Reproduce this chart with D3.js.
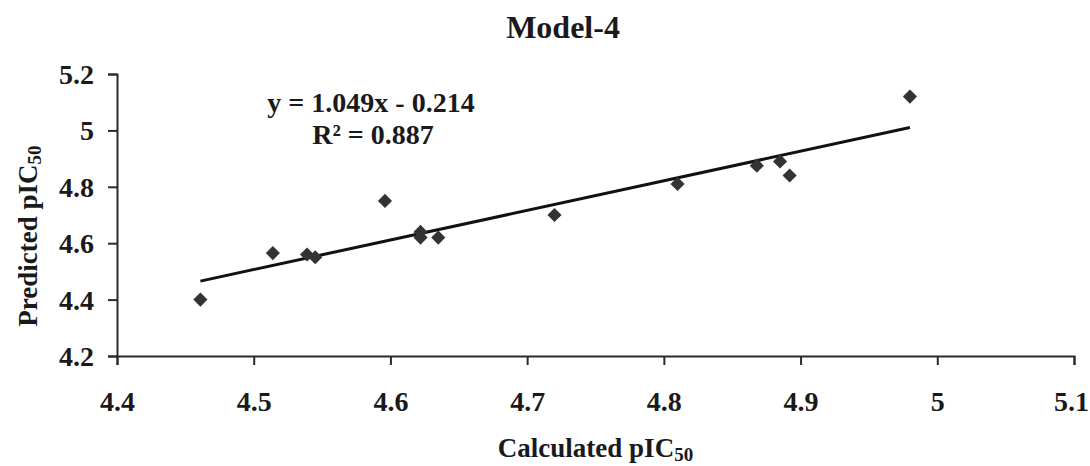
<!DOCTYPE html>
<html>
<head>
<meta charset="utf-8">
<script src="https://cdn.jsdelivr.net/npm/d3@7"></script>
<style>
  body { margin: 0; background: #fff; }
  svg text { font-family: "Liberation Serif", "Times New Roman", serif !important; font-weight: bold; fill: #1a1a1a; }
</style>
</head>
<body>
<div id="wrapper"></div>
<script>
const calculated = [4.461, 4.514, 4.539, 4.545, 4.596, 4.622, 4.622, 4.635, 4.72, 4.81, 4.868, 4.885, 4.892, 4.98]
const predicted = [4.40, 4.565, 4.56, 4.55, 4.75, 4.64, 4.62, 4.62, 4.70, 4.81, 4.875, 4.89, 4.84, 5.12]
const xTicks = [4.4, 4.5, 4.6, 4.7, 4.8, 4.9, 5.0, 5.1]
const yTicks = [4.2, 4.4, 4.6, 4.8, 5.0, 5.2]
const slope = 1.049
const intercept = -0.214
const rSquared = 0.887

function drawChart() {
    const dimensions = createChartDimensions()
    const svg = d3.select("#wrapper")
        .append("svg")
        .attr("width", dimensions.width)
        .attr("height", dimensions.height)
    const bounds = svg.append("g")
        .attr("transform", `translate(${dimensions.margin.left},${dimensions.margin.top})`)

    const xScale = d3.scaleLinear()
        .domain([4.4, 5.1])
        .range([0, dimensions.boundedWidth])
    const yScale = d3.scaleLinear()
        .domain([4.2, 5.2])
        .range([dimensions.boundedHeight, 0])

    // axes
    const yAxis = bounds.append("g")
        .call(d3.axisLeft(yScale).tickValues(yTicks).tickFormat(d3.format("")).tickSize(9).tickPadding(14))
    const xAxis = bounds.append("g")
        .attr("transform", `translate(0,${dimensions.boundedHeight})`)
        .call(d3.axisBottom(xScale).tickValues(xTicks).tickFormat(d3.format("")).tickSize(9).tickPadding(26))
    ;[xAxis, yAxis].forEach(ax => {
        ax.attr("font-family", "Liberation Serif").attr("font-size", 28).attr("font-weight", "bold")
        ax.select(".domain").attr("stroke", "#2a2a2a").attr("stroke-width", 2)
        ax.selectAll(".tick line").attr("stroke", "#2a2a2a").attr("stroke-width", 2)
        ax.selectAll(".tick text")
            .attr("font-family", "Liberation Serif")
            .style("font-family", "'Liberation Serif', serif")
            .style("font-size", "28px")
            .attr("fill", "#1a1a1a")
    })
    yAxis.selectAll(".tick text").attr("dy", "0.34em")
    xAxis.selectAll(".tick text").attr("dx", (d, i) => i === xTicks.length - 1 ? -3 : 0)

    // trend line
    const xs = d3.extent(calculated)
    bounds.append("line")
        .attr("x1", xScale(xs[0]))
        .attr("y1", yScale(slope * xs[0] + intercept))
        .attr("x2", xScale(xs[1]))
        .attr("y2", yScale(slope * xs[1] + intercept))
        .attr("stroke", "#111")
        .attr("stroke-width", 3)

    // points
    const diamond = d3.symbol().type(d3.symbolSquare).size(100)
    bounds.selectAll(".pt")
        .data(calculated.map((c, i) => [c, predicted[i]]))
        .join("path")
        .attr("class", "pt")
        .attr("d", diamond)
        .attr("transform", d => `translate(${xScale(d[0])},${yScale(d[1])}) rotate(45)`)
        .attr("fill", "#333")

    // equation
    svg.append("text")
        .attr("x", 371)
        .attr("y", 112)
        .attr("text-anchor", "middle")
        .style("font-size", "28px")
        .text(`y = ${slope}x - ${Math.abs(intercept)}`)
    svg.append("text")
        .attr("x", 373)
        .attr("y", 144)
        .attr("text-anchor", "middle")
        .style("font-size", "28px")
        .text(`R² = ${rSquared}`)

    // title
    svg.append("text")
        .attr("x", 563)
        .attr("y", 38)
        .attr("text-anchor", "middle")
        .style("font-size", "32px")
        .text("Model-4")

    // axis titles
    const xTitle = svg.append("text")
        .attr("x", dimensions.margin.left + dimensions.boundedWidth / 2)
        .attr("y", 457)
        .attr("text-anchor", "middle")
        .style("font-size", "27px")
    xTitle.append("tspan").text("Calculated pIC")
    xTitle.append("tspan").attr("dy", 4).style("font-size", "19px").text("50")

    const yTitle = svg.append("text")
        .attr("transform", `translate(37,236) rotate(-90)`)
        .attr("text-anchor", "middle")
        .style("font-size", "27px")
    yTitle.append("tspan").text("Predicted pIC")
    yTitle.append("tspan").attr("dy", 4).style("font-size", "19px").text("50")
}

function createChartDimensions() {
    let dimensions = {
        width: 1090,
        height: 466,
        margin: {top: 74, right: 16, bottom: 110, left: 117},
    }
    dimensions.boundedWidth = dimensions.width - dimensions.margin.left - dimensions.margin.right
    dimensions.boundedHeight = dimensions.height - dimensions.margin.top - dimensions.margin.bottom
    return dimensions
}

drawChart()
</script>
</body>
</html>
